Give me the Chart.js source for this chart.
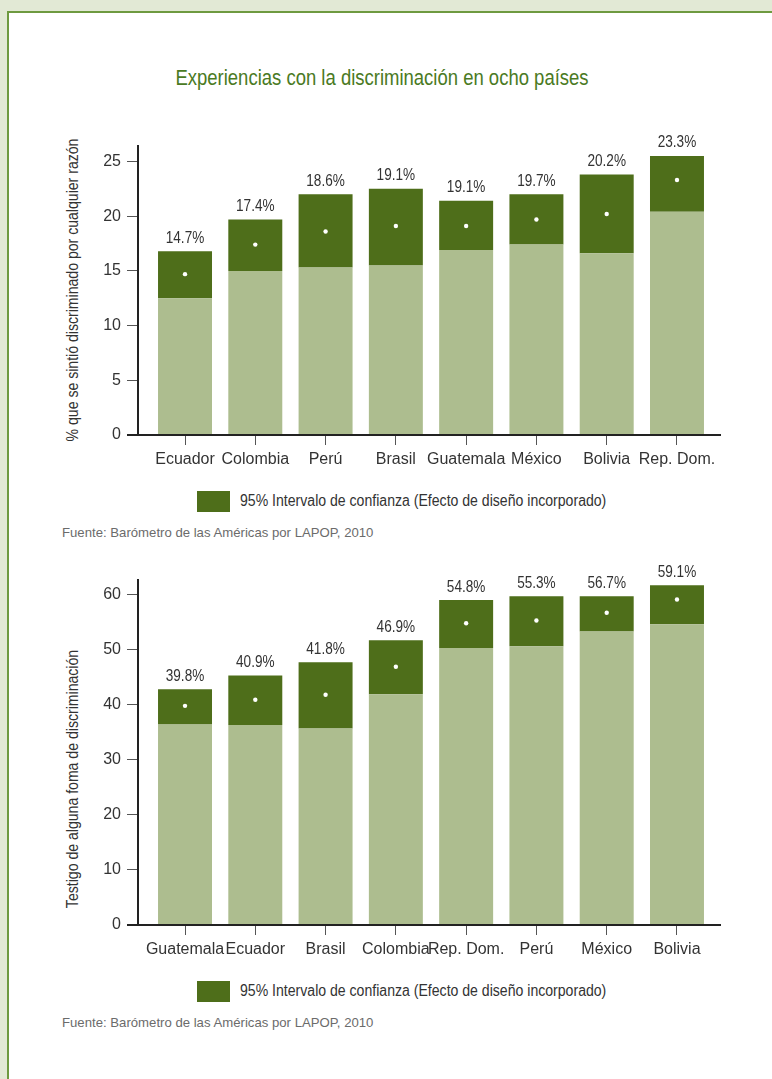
<!DOCTYPE html>
<html>
<head>
<meta charset="utf-8">
<script src="https://cdn.jsdelivr.net/npm/chart.js@4/dist/chart.umd.min.js"></script>
<style>
body { margin: 0; width: 772px; height: 1079px; overflow: hidden; position: relative; background: #e2e9d5; font-family: 'Liberation Sans', Arial, sans-serif; color: #333; }
#box { position: absolute; left: 7px; top: 11px; width: 800px; height: 1100px; background: #fff; border: 2px solid #6e9a40; }
#title { position: absolute; left: 0; top: 66px; width: 764px; text-align: center; font-size: 21.5px; line-height: 24px; color: #4a7a23; transform: scaleX(0.86); }
.ytitle { position: absolute; width: 400px; text-align: center; font-size: 16px; line-height: 18px; transform: rotate(-90deg) scaleX(0.88); color: #333; }
.square { position: absolute; left: 197px; width: 33px; height: 21px; background: #4e6e1a; }
.legend { position: absolute; left: 240px; font-size: 16px; line-height: 20px; white-space: nowrap; transform: scaleX(0.88); transform-origin: left center; }
.source { position: absolute; left: 62px; font-size: 13.5px; line-height: 16px; color: #6b6b6b; white-space: nowrap; transform: scaleX(0.975); transform-origin: left center; }
canvas { position: absolute; left: 0; }
</style>
</head>
<body>
<div id="box"></div>
<div id="title">Experiencias con la discriminación en ocho países</div>

<div class="ytitle" style="left:-127px; top:281px;">% que se sintió discriminado por cualquier razón</div>
<canvas id="chart-1" width="772" height="350" style="top:130px"></canvas>
<div class="square" style="top:491px;"></div>
<div class="legend" style="top:491px;">95% Intervalo de confianza (Efecto de diseño incorporado)</div>
<div class="source" style="top:525px;">Fuente: Barómetro de las Américas por LAPOP, 2010</div>

<div class="ytitle" style="left:-127px; top:770px;">Testigo de alguna foma de discriminación</div>
<canvas id="chart-2" width="772" height="410" style="top:560px"></canvas>
<div class="square" style="top:981px;"></div>
<div class="legend" style="top:981px;">95% Intervalo de confianza (Efecto de diseño incorporado)</div>
<div class="source" style="top:1015px;">Fuente: Barómetro de las Américas por LAPOP, 2010</div>

<script>
// grafico 1: cualquier razon
let countries_1 = ['Ecuador', 'Colombia', 'Perú', 'Brasil', 'Guatemala', 'México', 'Bolivia', 'Rep. Dom.']
let mean_1 = [14.7, 17.4, 18.6, 19.1, 19.1, 19.7, 20.2, 23.3]
let low_1 = [12.5, 15.0, 15.3, 15.5, 16.9, 17.4, 16.6, 20.4]
let high_1 = [16.8, 19.7, 22.0, 22.5, 21.4, 22.0, 23.8, 25.5]

// grafico 2: testigo
let countries_2 = ['Guatemala', 'Ecuador', 'Brasil', 'Colombia', 'Rep. Dom.', 'Perú', 'México', 'Bolivia']
let mean_2 = [39.8, 40.9, 41.8, 46.9, 54.8, 55.3, 56.7, 59.1]
let low_2 = [36.4, 36.3, 35.7, 41.9, 50.3, 50.6, 53.3, 54.6]
let high_2 = [42.8, 45.3, 47.7, 51.7, 59.0, 59.7, 59.7, 61.7]

let light_green = '#adbd8f'
let dark_green = '#4e6e1a'
let font_family = "'Liberation Sans', Arial, sans-serif"

Chart.defaults.font.family = font_family
Chart.defaults.font.size = 16
Chart.defaults.color = '#333'


function make_chart(canvas_id, labels, mean, low, high, y_max, y_step, pad_top) {

    let labels_plugin = {
        id: 'labels_' + canvas_id,
        afterDatasetsDraw(chart) {
            let ctx = chart.ctx
            let xs = chart.scales.x
            let ys = chart.scales.y
            ctx.font = '16px ' + font_family
            ctx.fillStyle = '#333'
            ctx.textAlign = 'center'
            ctx.textBaseline = 'middle'
            for (let i = 0; i < labels.length; i++) {
                ctx.save()
                ctx.translate(xs.getPixelForValue(i), ys.getPixelForValue(high[i]) - 13)
                ctx.scale(0.85, 1)
                ctx.fillText(mean[i].toFixed(1) + '%', 0, 0)
                ctx.restore()
            }
        }
    }

    return new Chart(document.getElementById(canvas_id), {
        type: 'bar',
        data: {
            datasets: [
                {
                    type: 'scatter',
                    data: mean.map((v, i) => ({ x: i, y: v })),
                    pointRadius: 2.2,
                    pointBackgroundColor: '#fff',
                    pointBorderWidth: 0,
                    order: 0
                },
                {
                    data: low.map((v, i) => ({ x: i, y: v })),
                    backgroundColor: light_green,
                    grouped: false,
                    barPercentage: 0.768,
                    categoryPercentage: 1,
                    order: 1
                },
                {
                    data: low.map((v, i) => ({ x: i, y: [v, high[i]] })),
                    backgroundColor: dark_green,
                    grouped: false,
                    barPercentage: 0.768,
                    categoryPercentage: 1,
                    order: 1
                }
            ]
        },
        options: {
            responsive: false,
            animation: false,
            devicePixelRatio: 1,
            layout: { padding: { top: pad_top, right: 52, left: 0, bottom: 0 } },
            plugins: { legend: { display: false }, tooltip: { enabled: false } },
            scales: {
                x: {
                    type: 'linear',
                    min: -0.669,
                    max: 7.612,
                    offset: false,
                    z: 1,
                    afterBuildTicks: s => { s.ticks = labels.map((l, i) => ({ value: i })) },
                    afterFit: s => { s.height = 45 },
                    grid: { offset: false, drawOnChartArea: false, tickLength: 10, color: '#555' },
                    border: { color: '#222', width: 2 },
                    ticks: { padding: 5, autoSkip: false, maxRotation: 0, callback: v => labels[v] }
                },
                y: {
                    min: 0,
                    max: y_max,
                    afterFit: s => { s.width = 138 },
                    grid: {
                        drawOnChartArea: false,
                        tickLength: 11,
                        color: c => c.tick && c.tick.value === 0 ? '#222' : '#555',
                        lineWidth: c => c.tick && c.tick.value === 0 ? 2 : 1
                    },
                    border: { color: '#222', width: 2 },
                    ticks: { stepSize: y_step, includeBounds: false, padding: 6 }
                }
            }
        },
        plugins: [labels_plugin]
    })
}

let chart_1 = make_chart('chart-1', countries_1, mean_1, low_1, high_1, 26.45, 5, 14)
let chart_2 = make_chart('chart-2', countries_2, mean_2, low_2, high_2, 62.65, 10, 20)
</script>
</body>
</html>
